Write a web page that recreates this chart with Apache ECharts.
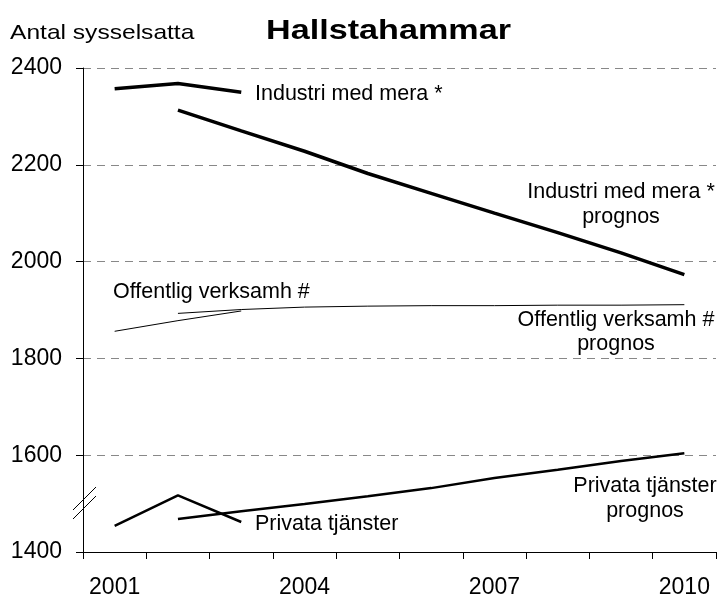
<!DOCTYPE html>
<html>
<head>
<meta charset="utf-8">
<script src="https://cdn.jsdelivr.net/npm/echarts@6/dist/echarts.min.js"></script>
<style>
  html, body { margin: 0; padding: 0; background: #fff; }
  #chart { width: 717px; height: 599px; }
</style>
</head>
<body>
<div id="chart"></div>
<script>
// årtal på x-axeln
var years = ['2001', '2002', '2003', '2004', '2005', '2006', '2007', '2008', '2009', '2010']
var yTicks = [1400, 1600, 1800, 2000, 2200, 2400]

// utfall och prognoser (avlästa)
var industri = [2357, 2368, 2350, null, null, null, null, null, null, null]
var industriPrognos = [null, 2313, 2270, 2228, 2182, 2141, 2100, 2060, 2018, 1973]
var offentlig = [1856, 1878, 1898, null, null, null, null, null, null, null]
var offentligPrognos = [null, 1893, 1901, 1906, 1908, 1909, 1909, 1910, 1910, 1911]
var privata = [1454, 1517, 1462, null, null, null, null, null, null, null]
var privataPrognos = [null, 1468, 1484, 1499, 1515, 1532, 1553, 1570, 1588, 1604]

var font = 'Liberation Sans, Arial, sans-serif'

function lineSerie(data, width) {
  return {
    type: 'line',
    data: data,
    symbol: 'none',
    connectNulls: false,
    lineStyle: { color: '#000', width: width },
    z: 3
  }
}

// textetikett, y = mitten av versalerna
function label(text, x, y, align, size) {
  return {
    type: 'text',
    x: x,
    y: y,
    style: {
      text: text,
      font: (size || 21.5) + 'px ' + font,
      fill: '#000',
      align: align || 'left',
      verticalAlign: 'middle'
    }
  }
}

var myChart = echarts.init(document.getElementById('chart'))
var option = {
  animation: false,
  grid: { left: 83, right: 1, top: 68, bottom: 46 },
  xAxis: {
    type: 'category',
    data: years,
    boundaryGap: true,
    axisLine: { lineStyle: { color: '#000', width: 1 } },
    axisTick: { show: true, interval: 0, length: 7, lineStyle: { color: '#000' } },
    axisLabel: { interval: 2, color: '#000', fontSize: 23, fontFamily: font, margin: 24 }
  },
  yAxis: {
    type: 'value',
    min: yTicks[0],
    max: yTicks[yTicks.length - 1],
    interval: 200,
    axisLine: { show: true, lineStyle: { color: '#000', width: 1 } },
    axisTick: { show: true, length: 7, lineStyle: { color: '#000' } },
    axisLabel: {
      color: '#000', fontSize: 23, fontFamily: font, margin: 21,
      formatter: function (v) { return String(v) }
    },
    splitLine: { show: true, lineStyle: { color: '#888', type: [8, 6], width: 1 } }
  },
  series: [
    lineSerie(industri, 3.5),
    lineSerie(industriPrognos, 3.5),
    lineSerie(offentlig, 1),
    lineSerie(offentligPrognos, 1),
    lineSerie(privata, 2.5),
    lineSerie(privataPrognos, 2.5)
  ],
  graphic: [
    {
      type: 'text', x: 10, y: 33, scaleX: 1.17,
      style: { text: 'Antal sysselsatta', font: '21px ' + font, fill: '#000', verticalAlign: 'middle' }
    },
    {
      type: 'text', x: 266, y: 31, scaleX: 1.22,
      style: { text: 'Hallstahammar', font: 'bold 28px ' + font, fill: '#000', verticalAlign: 'middle' }
    },
    label('Industri med mera *', 255, 94),
    label('Industri med mera *', 621, 192, 'center'),
    label('prognos', 621, 217, 'center'),
    label('Offentlig verksamh #', 113, 292),
    label('Offentlig verksamh #', 616, 320, 'center'),
    label('prognos', 616, 344, 'center'),
    label('Privata tjänster', 255, 524),
    label('Privata tjänster', 645, 486, 'center'),
    label('prognos', 645, 511, 'center'),
    // axelbrott
    { type: 'line', shape: { x1: 73, y1: 510, x2: 96, y2: 487 }, style: { stroke: '#000', lineWidth: 1 } },
    { type: 'line', shape: { x1: 73, y1: 519, x2: 96, y2: 496 }, style: { stroke: '#000', lineWidth: 1 } }
  ]
}
myChart.setOption(option)
</script>
</body>
</html>
